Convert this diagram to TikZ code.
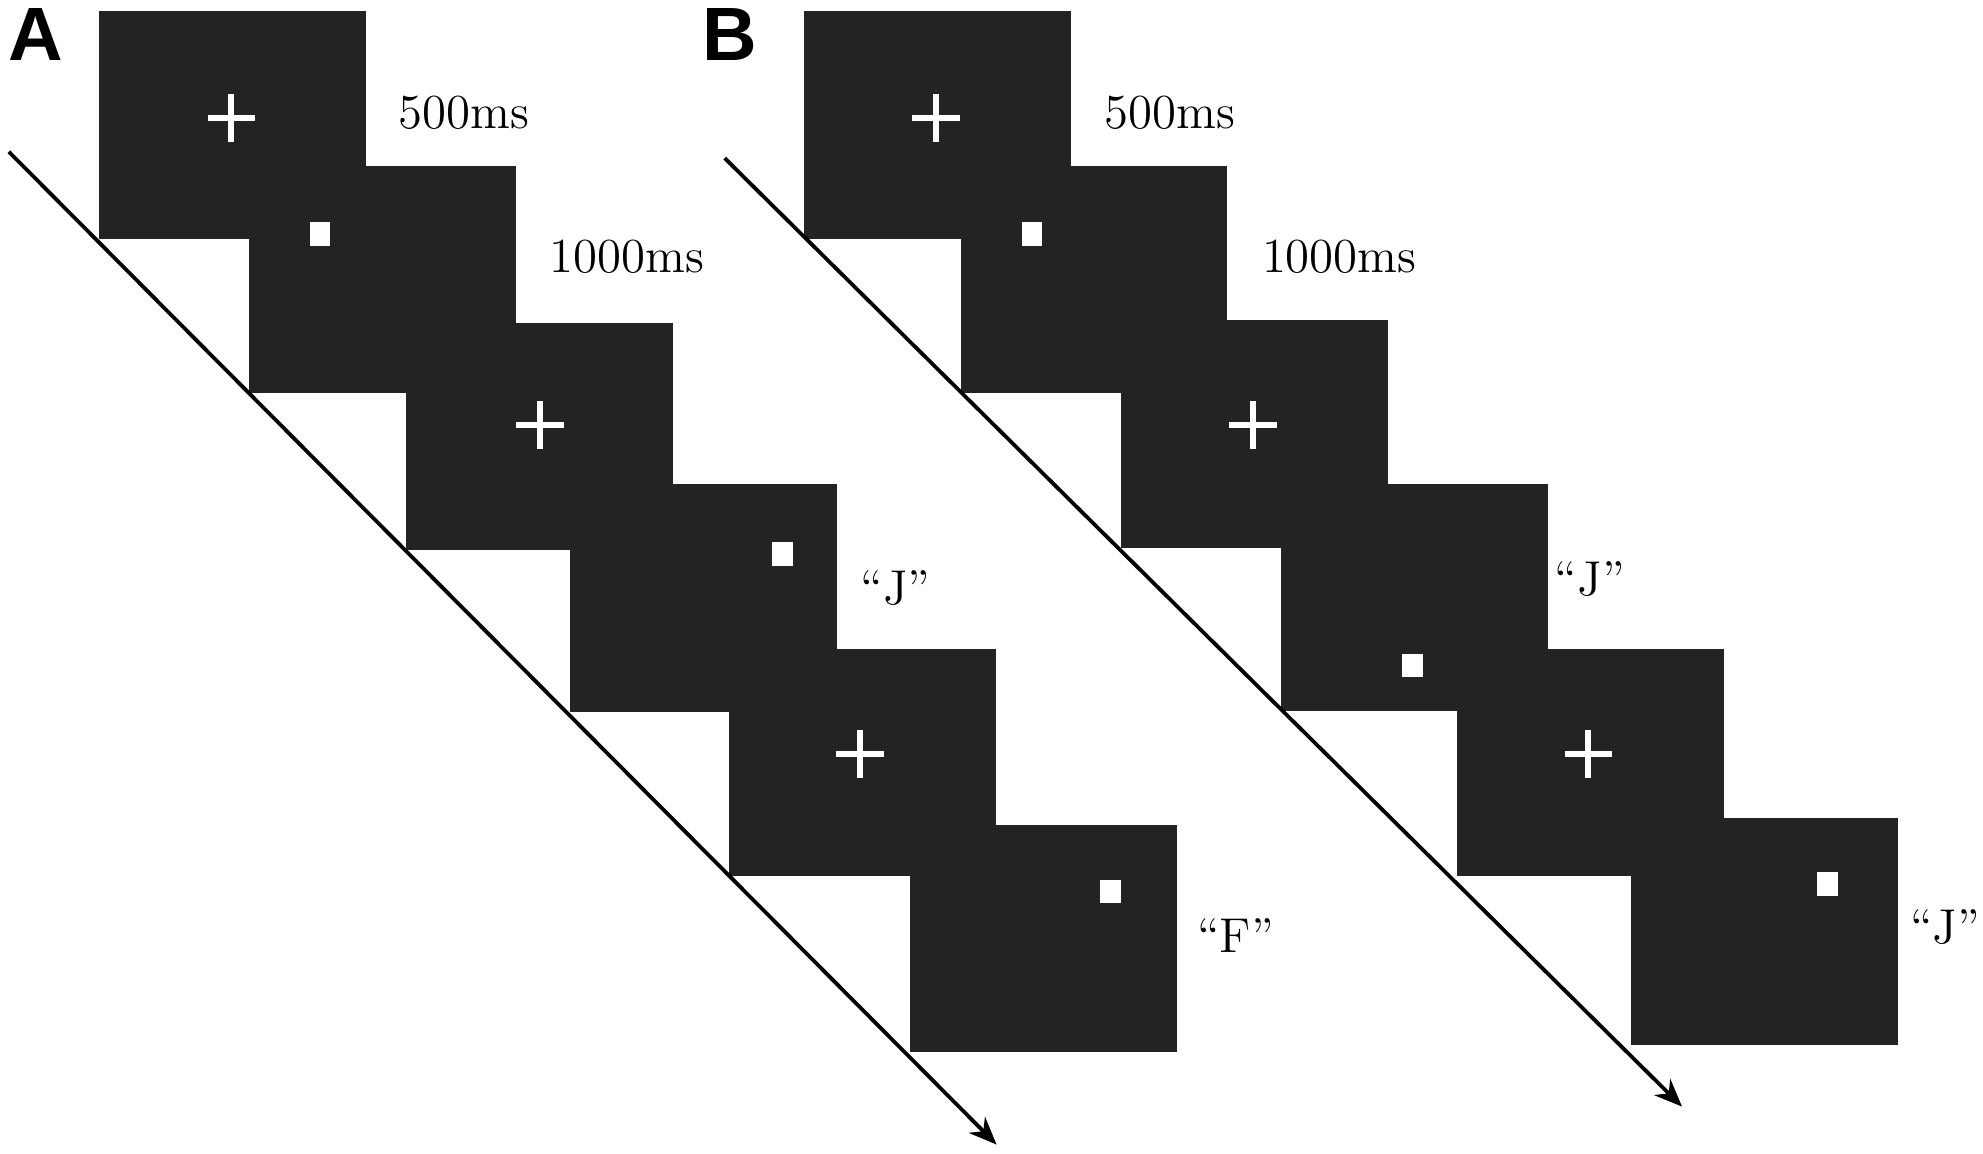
\documentclass[tikz,border=0pt]{standalone}
\usepackage{fontspec}
\usepackage{tikz}
\usetikzlibrary{arrows.meta, shapes.misc}
\newfontfamily\panelfont{Liberation Sans}
\definecolor{ScreenGray}{HTML}{232323}

\begin{document}
\begin{tikzpicture}[
    screen/.style={fill=ScreenGray, inner sep=0pt, minimum width=2.11cm, minimum height=1.80cm},
    fixcross/.style={cross out, draw=white, line width=1.35pt, rotate=45, inner sep=0pt, minimum size=0.22cm},
    probe/.style={fill=white, inner sep=0pt, minimum width=0.165cm, minimum height=0.185cm},
    timelbl/.style={font=\fontsize{11}{13}\selectfont, inner sep=0pt},
    panellbl/.style={font=\panelfont\fontsize{17}{19}\selectfont\bfseries, inner sep=0pt},
    timearr/.style={-{Stealth[length=2.2mm, width=1.8mm]}, line width=0.85pt},
]
\useasboundingbox (0,0) rectangle (15.68,-9.12);

% --- Panel letters ---
\node[panellbl] at (0.28, -0.27) (labA) {A};
\node[panellbl] at (5.77, -0.27) (labB) {B};

% --- Panel A: screens ---
\node[screen] at (1.84, -0.99)  (a1) {};
\node[screen] at (3.025, -2.21) (a2) {};
\node[screen] at (4.265, -3.45) (a3) {};
\node[screen] at (5.56, -4.73)  (a4) {};
\node[screen] at (6.82, -6.03)  (a5) {};
\node[screen] at (8.25, -7.42)  (a6) {};

% --- Panel A: fixation crosses and probes ---
\node[fixcross] at (1.83, -0.93) (a1x) {};
\node[probe]    at (2.53, -1.85) (a2p) {};
\node[fixcross] at (4.27, -3.36) (a3x) {};
\node[probe]    at (6.19, -4.38) (a4p) {};
\node[fixcross] at (6.80, -5.96) (a5x) {};
\node[probe]    at (8.78, -7.05) (a6p) {};

% --- Panel A: timings and responses ---
\node[timelbl] at (3.67, -0.89) (a1t) {500ms};
\node[timelbl] at (4.96, -2.03) (a2t) {1000ms};
\node[timelbl] at (7.08, -4.65) (a4r) {``J''};
\node[timelbl] at (9.77, -7.40) (a6r) {``F''};

% --- Panel B: screens ---
\node[screen] at (7.415, -0.99) (b1) {};
\node[screen] at (8.65, -2.21)  (b2) {};
\node[screen] at (9.92, -3.43)  (b3) {};
\node[screen] at (11.185, -4.725) (b4) {};
\node[screen] at (12.575, -6.03) (b5) {};
\node[screen] at (13.95, -7.365) (b6) {};

% --- Panel B: fixation crosses and probes ---
\node[fixcross] at (7.40, -0.93)  (b1x) {};
\node[probe]    at (8.16, -1.85)  (b2p) {};
\node[fixcross] at (9.91, -3.36)  (b3x) {};
\node[probe]    at (11.17, -5.26) (b4p) {};
\node[fixcross] at (12.56, -5.96) (b5x) {};
\node[probe]    at (14.45, -6.99) (b6p) {};

% --- Panel B: timings and responses ---
\node[timelbl] at (9.25, -0.89)  (b1t) {500ms};
\node[timelbl] at (10.59, -2.03) (b2t) {1000ms};
\node[timelbl] at (12.57, -4.58) (b4r) {``J''};
\node[timelbl] at (15.38, -7.33) (b6r) {``J''};

% --- Time axes ---
\coordinate (tA0) at (0.07, -1.20);
\coordinate (tA1) at (7.88, -9.05);
\coordinate (tB0) at (5.73, -1.25);
\coordinate (tB1) at (13.30, -8.75);
\draw[timearr] (tA0) -- (tA1);
\draw[timearr] (tB0) -- (tB1);

\end{tikzpicture}
\end{document}
